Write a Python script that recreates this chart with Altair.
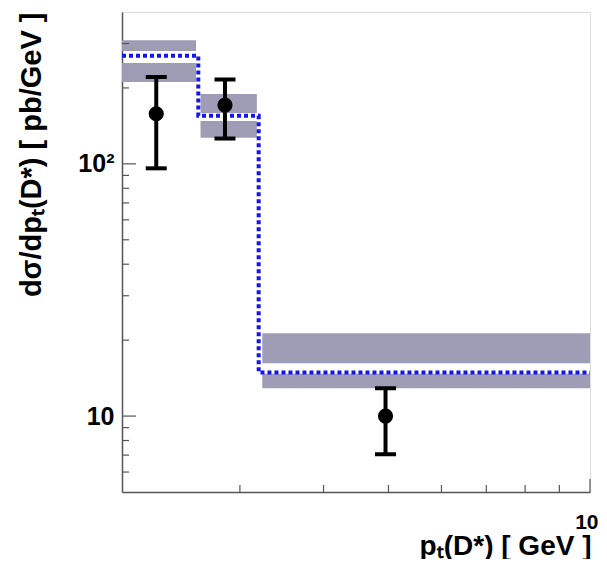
import altair as alt
import pandas as pd

# ---- data ----
# theory bands (upper and lower parts of each uncertainty box)
band_x_lo = [2.0, 2.0, 2.62, 2.62, 3.24, 3.24]
band_x_hi = [2.58, 2.58, 3.18, 3.18, 10.0, 10.0]
band_lo = [280, 211, 159, 127, 16.2, 12.9]
band_hi = [309, 251, 189, 148, 21.3, 14.7]

# theory central prediction (step line)
theo_x = [2.0, 2.6, 3.2, 10.0]
theo_y = [268, 155, 14.9, 14.9]

# data points with errors
pt_x = [2.25, 2.85, 4.95]
pt_y = [158, 171, 10.0]
pt_lo = [96, 126, 7.06]
pt_hi = [221, 216, 12.9]

# axis ticks
y_major = [10, 100]
y_minor = [6, 7, 8, 9, 20, 30, 40, 50, 60, 70, 80, 90, 200, 300]
x_major = [10]
x_minor = [3, 4, 5, 6, 7, 8, 9]

FONT = "Liberation Sans"
W, H = 468, 480

bands = pd.DataFrame({"x": band_x_lo, "x2": band_x_hi, "y": band_lo, "y2": band_hi})
theo = pd.DataFrame({"x": theo_x, "y": theo_y})
pts = pd.DataFrame({"x": pt_x, "y": pt_y, "lo": pt_lo, "hi": pt_hi})

xscale = alt.Scale(type="log", domain=[2, 10], nice=False)
yscale = alt.Scale(type="log", domain=[5, 400], nice=False)

xaxis = alt.Axis(
    values=[10], labelExpr="'10'", ticks=False, grid=False,
    domainColor="#555", domainWidth=1.5,
    labelFont=FONT, labelFontWeight="bold", labelFontSize=21, labelColor="black",
    labelPadding=19, labelFlush=True, labelFlushOffset=8,
    title="pₜ(D*) [ GeV ]", titleFont=FONT, titleFontWeight="bold", titleFontSize=28,
    titleColor="black", titleAnchor="end", titleAlign="right",
    titleX=469, titleY=62, titleBaseline="alphabetic",
)
yaxis = alt.Axis(
    values=[10, 100], labelExpr="datum.value == 100 ? '10²' : '10'", ticks=False, grid=False,
    domainColor="#555", domainWidth=1.5,
    labelFont=FONT, labelFontWeight="bold", labelFontSize=25, labelColor="black",
    labelPadding=8,
    title="dσ/dpₜ(D*) [ pb/GeV ]", titleFont=FONT, titleFontWeight="bold", titleFontSize=29,
    titleColor="black", titleAngle=270, titleAlign="right", titleX=-82, titleY=0,
    titleBaseline="alphabetic",
)

band_layer = alt.Chart(bands).mark_rect(color="#9e9db5").encode(
    x=alt.X("x:Q", scale=xscale, axis=xaxis),
    x2="x2:Q",
    y=alt.Y("y:Q", scale=yscale, axis=yaxis),
    y2="y2:Q",
)

theo_layer = alt.Chart(theo).mark_line(
    interpolate="step-after", color="#1414ec", strokeWidth=4, strokeDash=[4, 3]
).encode(x=alt.X("x:Q", scale=xscale), y=alt.Y("y:Q", scale=yscale))

err_layer = alt.Chart(pts).mark_rule(color="black", strokeWidth=4).encode(
    x=alt.X("x:Q", scale=xscale), y=alt.Y("lo:Q", scale=yscale), y2="hi:Q"
)
cap_lo = alt.Chart(pts).mark_tick(color="black", orient="horizontal", thickness=4, size=21, opacity=1).encode(
    x=alt.X("x:Q", scale=xscale), y=alt.Y("lo:Q", scale=yscale)
)
cap_hi = alt.Chart(pts).mark_tick(color="black", orient="horizontal", thickness=4, size=21, opacity=1).encode(
    x=alt.X("x:Q", scale=xscale), y=alt.Y("hi:Q", scale=yscale)
)
pt_layer = alt.Chart(pts).mark_circle(color="black", size=230, opacity=1).encode(
    x=alt.X("x:Q", scale=xscale), y=alt.Y("y:Q", scale=yscale)
)

ymaj = alt.Chart(pd.DataFrame({"v": y_major})).mark_rule(color="#555", strokeWidth=1.2).encode(
    y=alt.Y("v:Q", scale=yscale), x=alt.value(0), x2=alt.value(14)
)
ymin = alt.Chart(pd.DataFrame({"v": y_minor})).mark_rule(color="#555", strokeWidth=1.2).encode(
    y=alt.Y("v:Q", scale=yscale), x=alt.value(0), x2=alt.value(7)
)
xmaj = alt.Chart(pd.DataFrame({"v": x_major})).mark_rule(color="#555", strokeWidth=1.2).encode(
    x=alt.X("v:Q", scale=xscale), y=alt.value(H), y2=alt.value(H - 13)
)
xmin = alt.Chart(pd.DataFrame({"v": x_minor})).mark_rule(color="#555", strokeWidth=1.2).encode(
    x=alt.X("v:Q", scale=xscale), y=alt.value(H), y2=alt.value(H - 7)
)

chart = alt.layer(
    band_layer, theo_layer, err_layer, cap_lo, cap_hi, pt_layer, ymaj, ymin, xmaj, xmin
).properties(
    width=W, height=H,
    autosize=alt.AutoSizeParams(type="none"),
    padding={"left": 114, "top": 4, "right": 9, "bottom": 67},
).configure_view(
    stroke="#888", strokeWidth=1.5
).configure(background="white")

chart.save("out.html", embed_options={"renderer": "svg", "actions": False})
